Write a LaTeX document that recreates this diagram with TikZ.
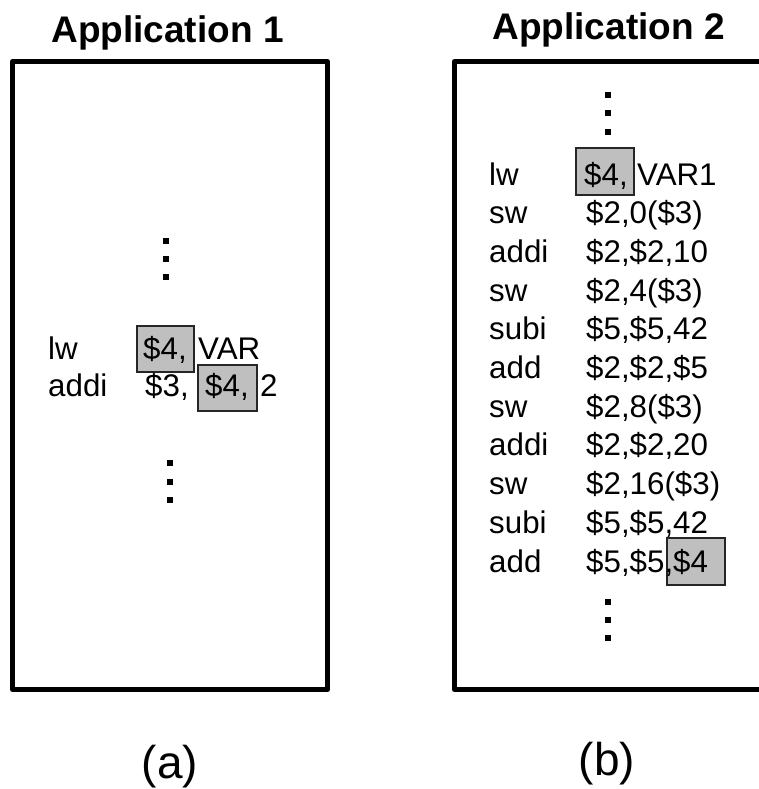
\documentclass[tikz,border=0pt]{standalone}
\usepackage{fontspec}
\setmainfont{Liberation Sans}
\begin{document}
\begin{tikzpicture}[x=1pt,y=-1pt,
  code/.style={inner sep=0pt,anchor=base west,font=\fontsize{31.3}{38}\selectfont},
  title/.style={inner sep=0pt,anchor=base,font=\fontsize{37}{44}\selectfont\bfseries},
  caption/.style={inner sep=0pt,anchor=base,font=\fontsize{46}{54}\selectfont},
  frame/.style={line width=5pt,line join=round},
  regbox/.style={fill=black!25,draw=black!85,line width=1.5pt},
  dot/.style={fill=black,draw=none}]
\useasboundingbox (0,0) rectangle (759,789);
\clip (0,0) rectangle (759,789);

% program frames
\draw[frame] (12.5,61.5) rectangle (327.5,689.5);
\draw[frame] (454.5,61.5) rectangle (790,689.5);

% titles and captions
\node[title] (t1) at (167.5,43) {Application 1};
\node[title] (t2) at (608.5,40) {Application 2};
\node[caption] (ca) at (170,778) {(a)};
\node[caption] (cb) at (607,775) {(b)};

% ---- Application 1 ----
\foreach \y in {241,259,277} \fill[dot] (163,\y-3) rectangle (169,\y+3);
\foreach \y in {463,481.5,499.5} \fill[dot] (166.5,\y-3) rectangle (172.5,\y+3);

\draw[regbox] (137,326) rectangle (194,372);
\draw[regbox] (198,365) rectangle (257,411);

\node[code] (a1op) at (48,359) {lw};
\node[code] (a1r)  at (143,359) {\$4,};
\node[code] (a1v)  at (198,359) {VAR};
\node[code] (a2op) at (48,396) {addi};
\node[code] (a2r)  at (145,396) {\$3,};
\node[code] (a2s)  at (205,396) {\$4,};
\node[code] (a2i)  at (260,396) {2};

% ---- Application 2 ----
\foreach \y in {95,113.5,131.5,602,620,638} \fill[dot] (604.5,\y-3) rectangle (610.5,\y+3);

\draw[regbox] (576,148) rectangle (634,195);
\draw[regbox] (667,538) rectangle (725,585);

\node[code] (b1op) at (489,185) {lw};
\node[code] (b1r)  at (584,185) {\$4,};
\node[code] (b1v)  at (637,185) {VAR1};

\foreach \op/\args [count=\i] in {sw/{\$2,0(\$3)},addi/{\$2,\$2,10},sw/{\$2,4(\$3)},
    subi/{\$5,\$5,42},add/{\$2,\$2,\$5},sw/{\$2,8(\$3)},addi/{\$2,\$2,20},
    sw/{\$2,16(\$3)},subi/{\$5,\$5,42},add/{\$5,\$5,\$4}}
{
  \node[code] (bop\i) at (489,185+38.7*\i) {\op};
  \node[code] (barg\i) at (586,185+38.7*\i) {\args};
}
\end{tikzpicture}
\end{document}
